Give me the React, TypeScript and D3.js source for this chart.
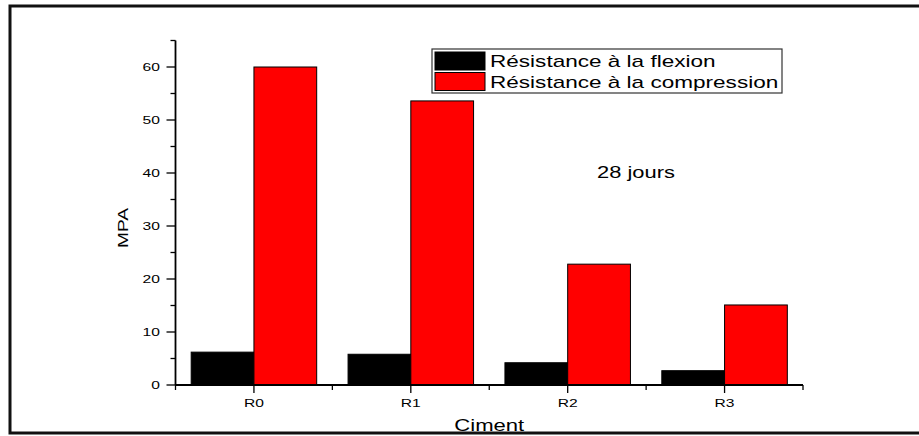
import React from "react";
import * as d3 from "d3";

const categories = ["R0", "R1", "R2", "R3"];
const flexion = [6.2, 5.8, 4.2, 2.7];
const compression = [60.0, 53.6, 22.8, 15.1];
const seriesNames = ["Résistance à la flexion", "Résistance à la compression"];
const seriesColors = ["#000000", "#ff0000"];
const yMajorTicks = [0, 10, 20, 30, 40, 50, 60];
const yMinorTicks = [5, 15, 25, 35, 45, 55, 65];
const annotation = "28 jours";
const xTitle = "Ciment";
const yTitle = "MPA";

const W = 919;
const H = 436;
const SX = 1.42;
const FONT = "Liberation Sans, Arial, Helvetica, sans-serif";

function SText(props: { x: number; y: number; size: number; anchor?: string; children: any; sx?: number }) {
  const { x, y, size, anchor = "start", children, sx = SX } = props;
  return (
    <text
      transform={`translate(${x},${y}) scale(${sx},1)`}
      fontSize={size}
      fontFamily={FONT}
      textAnchor={anchor}
      fill="#000"
    >
      {children}
    </text>
  );
}

export default function App() {
  const left = 175.5;
  const right = 803;
  const y = d3.scaleLinear().domain([0, 65]).range([385, 40.5]);
  const x = d3.scaleBand<string>().domain(categories).range([left, right]).paddingInner(0).paddingOuter(0);
  const inner = d3
    .scaleBand<number>()
    .domain([0, 1])
    .range([x.bandwidth() * 0.1, x.bandwidth() * 0.9]);
  const series = [flexion, compression];
  const y0 = y(0);

  const boundaries = [...categories.map((c) => x(c) as number), right];

  return (
    <svg width={W} height={H} style={{ position: "absolute", left: 0, top: 0, background: "#fff" }}>
      <rect x={0} y={0} width={W} height={H} fill="#fff" />
      {/* frame */}
      <rect x={10} y={6} width={W + 20} height={427} fill="none" stroke="#111" strokeWidth={3} />

      {/* bars */}
      {categories.map((c, i) =>
        series.map((s, k) => (
          <rect
            key={c + k}
            x={(x(c) as number) + (inner(k) as number)}
            y={y(s[i])}
            width={inner.bandwidth()}
            height={y0 - y(s[i])}
            fill={seriesColors[k]}
            stroke="#000"
            strokeWidth={1}
          />
        ))
      )}

      {/* y axis */}
      <line x1={left} x2={left} y1={y(65)} y2={y0} stroke="#000" strokeWidth={1.8} />
      {yMajorTicks.map((t) => (
        <g key={"ym" + t}>
          <line x1={left - 9} x2={left} y1={y(t)} y2={y(t)} stroke="#000" strokeWidth={1.3} />
          <SText x={160} y={y(t) + 4} size={11} anchor="end">
            {t}
          </SText>
        </g>
      ))}
      {yMinorTicks.map((t) => (
        <line key={"yn" + t} x1={left - 5} x2={left} y1={y(t)} y2={y(t)} stroke="#000" strokeWidth={1.3} />
      ))}

      {/* x axis */}
      <line x1={left} x2={right} y1={y0} y2={y0} stroke="#000" strokeWidth={1.8} />
      {categories.map((c) => {
        const cx = (x(c) as number) + x.bandwidth() / 2;
        return (
          <g key={"xm" + c}>
            <line x1={cx} x2={cx} y1={y0} y2={y0 + 8} stroke="#000" strokeWidth={1.3} />
            <SText x={cx} y={407} size={11} anchor="middle">
              {c}
            </SText>
          </g>
        );
      })}
      {boundaries.map((b, i) => (
        <line key={"xn" + i} x1={b} x2={b} y1={y0} y2={y0 + 5} stroke="#000" strokeWidth={1.3} />
      ))}

      {/* axis titles */}
      <SText x={(left + right) / 2} y={431} size={16} anchor="middle" sx={1.38}>
        {xTitle}
      </SText>
      <text
        transform={`translate(128,228) rotate(-90)`}
        fontSize={15}
        fontFamily={FONT}
        textAnchor="middle"
        textLength={40}
        lengthAdjust="spacingAndGlyphs"
      >
        {yTitle}
      </text>

      {/* annotation */}
      <SText x={597} y={178} size={16} sx={1.37}>
        {annotation}
      </SText>

      {/* legend */}
      <rect x={432} y={49} width={350} height={44} fill="#fff" stroke="#333" strokeWidth={1.2} />
      {seriesNames.map((n, k) => (
        <g key={"lg" + k}>
          <rect x={435} y={52 + k * 20.5} width={50} height={18} fill={seriesColors[k]} stroke="#000" strokeWidth={1} />
          <SText x={490} y={67 + k * 20.5} size={16} sx={1.41}>
            {n}
          </SText>
        </g>
      ))}
    </svg>
  );
}
